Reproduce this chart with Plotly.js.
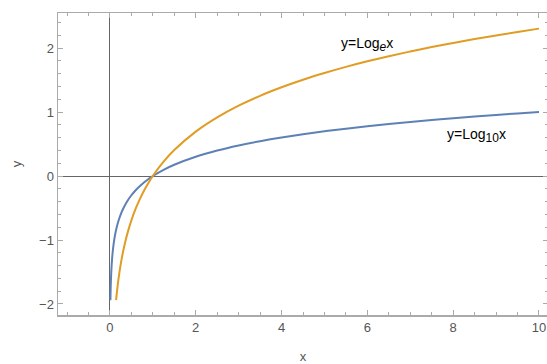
<!DOCTYPE html>
<html>
<head>
<meta charset="utf-8">
<script src="https://cdn.plot.ly/plotly-3.0.1.min.js"></script>
<style>
html, body { margin: 0; padding: 0; overflow: hidden; background: #fff; }
#chart { width: 550px; height: 364px; }
</style>
</head>
<body>
<div id="chart"></div>
<script>
// Values
const log10X = [0.0115, 0.013, 0.015, 0.02, 0.025, 0.03, 0.04, 0.05, 0.06, 0.08, 0.1, 0.125, 0.15, 0.2, 0.25, 0.3, 0.4, 0.5, 0.6, 0.7, 0.8, 0.9, 1, 1.25, 1.5, 2, 2.5, 3, 3.5, 4, 4.5, 5, 5.5, 6, 6.5, 7, 7.5, 8, 8.5, 9, 9.5, 10];
const log10Y = [-1.94, -1.886, -1.824, -1.699, -1.602, -1.523, -1.398, -1.301, -1.222, -1.097, -1.0, -0.903, -0.824, -0.699, -0.602, -0.523, -0.398, -0.301, -0.222, -0.155, -0.097, -0.046, 0, 0.097, 0.176, 0.301, 0.398, 0.477, 0.544, 0.602, 0.653, 0.699, 0.740, 0.778, 0.813, 0.845, 0.875, 0.903, 0.929, 0.954, 0.978, 1.0];
const lnX = [0.144, 0.16, 0.18, 0.2, 0.25, 0.3, 0.35, 0.4, 0.5, 0.6, 0.7, 0.8, 0.9, 1, 1.25, 1.5, 2, 2.5, 3, 3.5, 4, 4.5, 5, 5.5, 6, 6.5, 7, 7.5, 8, 8.5, 9, 9.5, 10];
const lnY = [-1.94, -1.833, -1.715, -1.609, -1.386, -1.204, -1.050, -0.916, -0.693, -0.511, -0.357, -0.223, -0.105, 0, 0.223, 0.405, 0.693, 0.916, 1.099, 1.253, 1.386, 1.504, 1.609, 1.705, 1.792, 1.872, 1.946, 2.015, 2.079, 2.140, 2.197, 2.251, 2.303];
const labelText = [
  "y=Log<sub><span style='font-size:12px'><i>e</i></span></sub>x",
  "y=Log<sub><span style='font-size:12px'>10</span></sub>x"
];
const labelX = [6.0, 8.55];
const labelY = [2.05, 0.63];
const xTicks = [0, 2, 4, 6, 8, 10];
const yTicks = [-2, -1, 0, 1, 2];

const traces = [
  { x: log10X, y: log10Y, mode: 'lines', line: { color: '#5E81B5', width: 2, shape: 'spline' }, hoverinfo: 'skip' },
  { x: lnX, y: lnY, mode: 'lines', line: { color: '#E19C24', width: 2, shape: 'spline' }, hoverinfo: 'skip' }
];

const tickFont = { family: 'Liberation Sans, Arial, sans-serif', size: 13, color: '#555' };

const layout = {
  width: 550, height: 364,
  margin: { l: 58, r: 2, t: 13, b: 49 },
  showlegend: false,
  paper_bgcolor: '#fff', plot_bgcolor: '#fff',
  font: tickFont,
  xaxis: {
    range: [-1.21, 10.21], tickvals: xTicks, ticktext: xTicks.map(String),
    showgrid: false, zeroline: true, zerolinecolor: '#666', zerolinewidth: 1,
    showline: true, linecolor: '#aaa', linewidth: 1.5, mirror: 'allticks',
    ticks: 'inside', ticklen: 5, tickcolor: '#aaa', tickwidth: 1,
    minor: { dtick: 0.5, tick0: 0, ticks: 'inside', ticklen: 3, tickcolor: '#aaa', showgrid: false },
    tickfont: tickFont,
    title: { text: 'x', font: tickFont, standoff: 18 }
  },
  yaxis: {
    range: [-2.172, 2.547], tickvals: yTicks, ticktext: yTicks.map(v => v < 0 ? '\u2212' + Math.abs(v) : String(v)),
    showgrid: false, zeroline: true, zerolinecolor: '#666', zerolinewidth: 1,
    showline: true, linecolor: '#aaa', linewidth: 1.5, mirror: 'allticks',
    ticks: 'inside', ticklen: 5, tickcolor: '#aaa', tickwidth: 1,
    minor: { dtick: 0.2, tick0: 0, ticks: 'inside', ticklen: 3, tickcolor: '#aaa', showgrid: false },
    tickfont: tickFont,
    title: { text: 'y', font: tickFont, standoff: 14 }
  },
  annotations: labelText.map((t, i) => ({
    x: labelX[i], y: labelY[i], xref: 'x', yref: 'y', text: t, showarrow: false,
    font: { family: 'Liberation Sans, Arial, sans-serif', size: 14, color: '#000' }
  }))
};

Plotly.newPlot('chart', traces, layout, { displayModeBar: false, staticPlot: true });
</script>
</body>
</html>
